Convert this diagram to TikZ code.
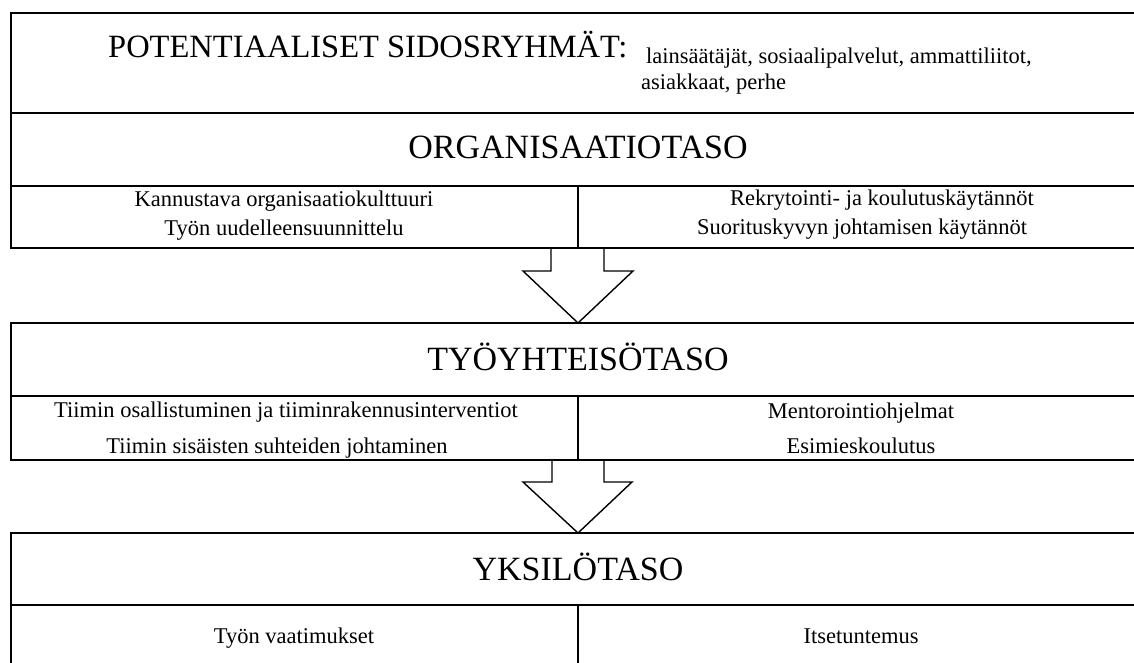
\documentclass[tikz,border=0pt]{standalone}
\usepackage{fontspec}
\setmainfont{Liberation Serif}
\begin{document}
\begin{tikzpicture}[x=1pt,y=-1pt,
  border/.style={line width=2pt},
  divline/.style={line width=1.2pt},
  blockarrow/.style={line width=1.4pt, line join=miter},
  title/.style={font=\fontsize{34}{38}\selectfont, anchor=base, inner sep=0pt},
  headline/.style={font=\fontsize{32.5}{36}\selectfont, anchor=base west, inner sep=0pt},
  item/.style={font=\fontsize{22.5}{26}\selectfont, anchor=base, inner sep=0pt},
  stake/.style={font=\fontsize{22.5}{26}\selectfont, anchor=base west, inner sep=0pt},
]
\useasboundingbox (0,0) rectangle (1134,663);
% ---------- key coordinates
\coordinate (L) at (11,0);
\coordinate (R) at (1150,0);
\coordinate (M) at (578,0);
% ---------- box 1: stakeholders + organisation level
\draw[border] (R|-0,13) -- (L|-0,13) -- (L|-0,248) -- (R|-0,248);
\draw[border] (L|-0,113) -- (R|-0,113);
\draw[divline] (L|-0,186) -- (R|-0,186);
\draw[divline] (M|-0,186) -- (M|-0,248);
% ---------- arrow 1
\coordinate (a1) at (578,323);
\draw[blockarrow] (551,248) -- (551,271) -- (523,271) -- (a1) -- (633,271) -- (604,271) -- (604,248);
% ---------- box 2: work community level
\draw[border] (R|-0,323) -- (L|-0,323) -- (L|-0,460) -- (R|-0,460);
\draw[divline] (L|-0,396) -- (R|-0,396);
\draw[divline] (M|-0,396) -- (M|-0,460);
% ---------- arrow 2
\coordinate (a2) at (578,533);
\draw[blockarrow] (552,460) -- (552,482) -- (523,482) -- (a2) -- (632,482) -- (604,482) -- (604,460);
% ---------- box 3: individual level
\draw[border] (R|-0,533) -- (L|-0,533) -- (L|-0,680);
\draw[divline] (L|-0,605) -- (R|-0,605);
\draw[divline] (M|-0,605) -- (M|-0,680);
% ---------- texts
\node[headline] (pot) at (108,58) {POTENTIAALISET SIDOSRYHMÄT:};
\node[stake] (sid1) at (646,64) {lainsäätäjät, sosiaalipalvelut, ammattiliitot,};
\node[stake] (sid2) at (641,90) {asiakkaat, perhe};
\node[title] (org) at (578,159) {ORGANISAATIOTASO};
\node[item] (o1) at (284,207) {Kannustava organisaatiokulttuuri};
\node[item] (o2) at (284,235) {Työn uudelleensuunnittelu};
\node[item] (o3) at (882,205) {Rekrytointi- ja koulutuskäytännöt};
\node[item] (o4) at (862,234) {Suorituskyvyn johtamisen käytännöt};
\node[title] (tyo) at (578,370) {TYÖYHTEISÖTASO};
\node[item] (t1) at (286,417) {Tiimin osallistuminen ja tiiminrakennusinterventiot};
\node[item] (t2) at (277,453) {Tiimin sisäisten suhteiden johtaminen};
\node[item] (t3) at (861,418) {Mentorointiohjelmat};
\node[item] (t4) at (861,453) {Esimieskoulutus};
\node[title] (yks) at (578,580) {YKSILÖTASO};
\node[item] (y1) at (294,643) {Työn vaatimukset};
\node[item] (y2) at (861,643) {Itsetuntemus};
\end{tikzpicture}
\end{document}
